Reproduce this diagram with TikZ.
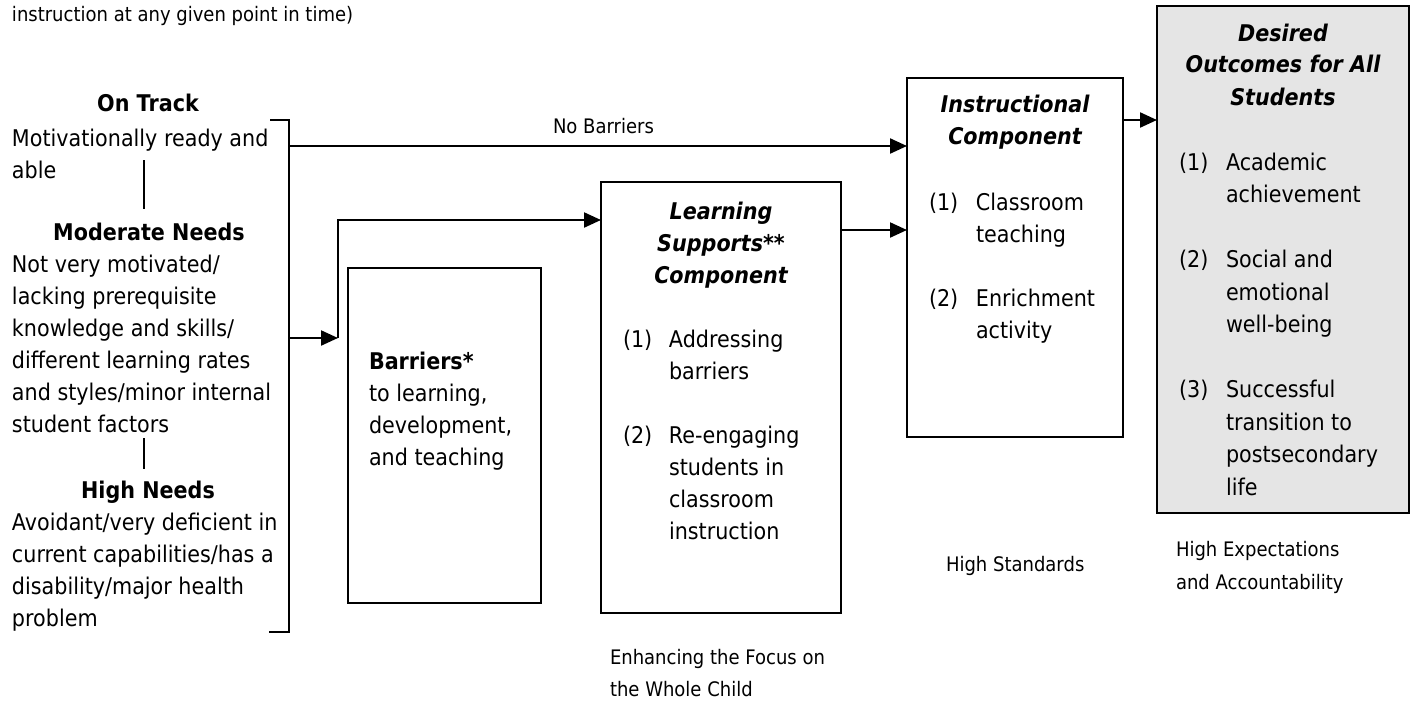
\documentclass[tikz,border=0pt]{standalone}
\usepackage{fontspec}
\setmainfont{DejaVu Sans}[FakeStretch=0.9]
\usetikzlibrary{arrows.meta,calc}
\newcommand{\mainfs}{\fontsize{23}{32}\selectfont}
\newcommand{\smallfs}{\fontsize{20}{32}\selectfont}
\newcommand{\Lblock}[1]{\begin{tabular}[t]{@{}l@{}}#1\end{tabular}}
\newcommand{\Cblock}[1]{\begin{tabular}[t]{@{}c@{}}#1\end{tabular}}
\newcommand{\Iblock}[2]{\begin{tabular}[t]{@{}p{#1}@{}l@{}}#2\end{tabular}}
\tikzset{
  arr/.style={-{Triangle[length=17pt,width=15pt]}},
  box/.style={draw, line width=2.2pt, inner sep=0pt},
  lbl/.style={anchor=base west, font=\smallfs},
}
\begin{document}
\begin{tikzpicture}[x=1pt,y=-1pt,line width=2.2pt,every node/.style={inner sep=0pt,outer sep=0pt}]
\useasboundingbox (0,0) rectangle (1414,704);
% boxes
\node[box, minimum width=193pt, minimum height=335pt] (bar) at (444.5,435.5) {};
\node[box, minimum width=240pt, minimum height=431pt] (ls) at (721,397.5) {};
\node[box, minimum width=216pt, minimum height=359pt] (ins) at (1015,257.5) {};
\node[box, fill=black!10, minimum width=252pt, minimum height=507pt] (des) at (1283,259.5) {};
% top text
\node[lbl] (topt) at (12,21) {instruction at any given point in time)};
% left column
\node[anchor=base, font=\mainfs\bfseries] (ontrack) at (148,111) {On Track};
\node[anchor=base west, font=\mainfs] (ontxt) at (12,146) {\Lblock{Motivationally ready and\\able}};
\node[anchor=base, font=\mainfs\bfseries] (mod) at (149,240) {Moderate Needs};
\node[anchor=base west, font=\mainfs] (modtxt) at (12,272) {\Lblock{Not very motivated/\\lacking prerequisite\\knowledge and skills/\\different learning rates\\and styles/minor internal\\student factors}};
\node[anchor=base, font=\mainfs\bfseries] (high) at (148,498) {High Needs};
\node[anchor=base west, font=\mainfs] (hightxt) at (12,530) {\Lblock{Avoidant/very deficient in\\current capabilities/has a\\disability/major health\\problem}};
\coordinate (v1a) at (144,160);
\coordinate (v1b) at (144,209);
\coordinate (v2a) at (144,438);
\coordinate (v2b) at (144,469);
\draw (v1a) -- (v1b);
\draw (v2a) -- (v2b);
% bracket
\coordinate (brTL) at (270,120);
\coordinate (brT) at (289,120);
\coordinate (brB) at (289,632);
\coordinate (brBL) at (269,632);
\draw (brTL) -- (brT) -- (brB) -- (brBL);
% arrows
\coordinate (nb) at (289,146);
\draw[arr] (nb) -- (nb -| ins.west);
\node[lbl] (nbl) at (553,133) {No Barriers};
\coordinate (mb) at (289,338);
\coordinate (corner) at (338,338);
\coordinate (up) at (338,220);
\draw[arr] (mb) -- (corner);
\draw[arr] (corner) -- (up) -- (up -| ls.west);
\draw[arr] ($(ls.north east)+(0,48)$) coordinate (a2) -- (a2 -| ins.west);
\draw[arr] ($(ins.north east)+(0,42)$) coordinate (a3) -- (a3 -| des.west);
% barriers text
\node[anchor=base west, font=\mainfs] (bartxt) at (369,369) {\Lblock{\textbf{Barriers*}\\to learning,\\development,\\and teaching}};
% learning supports
\node[anchor=base, font=\mainfs\bfseries\itshape] (lstitle) at (721,219) {\Cblock{Learning\\Supports**\\Component}};
\node[anchor=base west, font=\mainfs] (lsitems) at (623,347) {\Iblock{46pt}{(1) & Addressing\\ & barriers\\[32pt] (2) & Re-engaging\\ & students in\\ & classroom\\ & instruction}};
\node[lbl] (enhtxt) at (610,664) {\Lblock{Enhancing the Focus on\\the Whole Child}};
% instructional
\node[anchor=base, font=\mainfs\bfseries\itshape] (institle) at (1015,112) {\Cblock{Instructional\\Component}};
\node[anchor=base west, font=\mainfs] (insitems) at (929,210) {\Iblock{47pt}{(1) & Classroom\\ & teaching\\[32pt] (2) & Enrichment\\ & activity}};
\node[lbl] (hs) at (946,571) {High Standards};
% desired
\node[anchor=base, font=\mainfs\bfseries\itshape] (destitle) at (1283,41) {\Cblock{Desired\\Outcomes for All\\Students}};
\node[anchor=base west, font=\fontsize{23}{32.5}\selectfont] (desitems) at (1179,170) {\Iblock{47pt}{(1) & Academic\\ & achievement\\[32.5pt] (2) & Social and\\ & emotional\\ & well-being\\[32.5pt] (3) & Successful\\ & transition to\\ & postsecondary\\ & life}};
\node[anchor=base west, font=\fontsize{20}{33}\selectfont] (hea) at (1176,556) {\Lblock{High Expectations\\and Accountability}};
\end{tikzpicture}
\end{document}
